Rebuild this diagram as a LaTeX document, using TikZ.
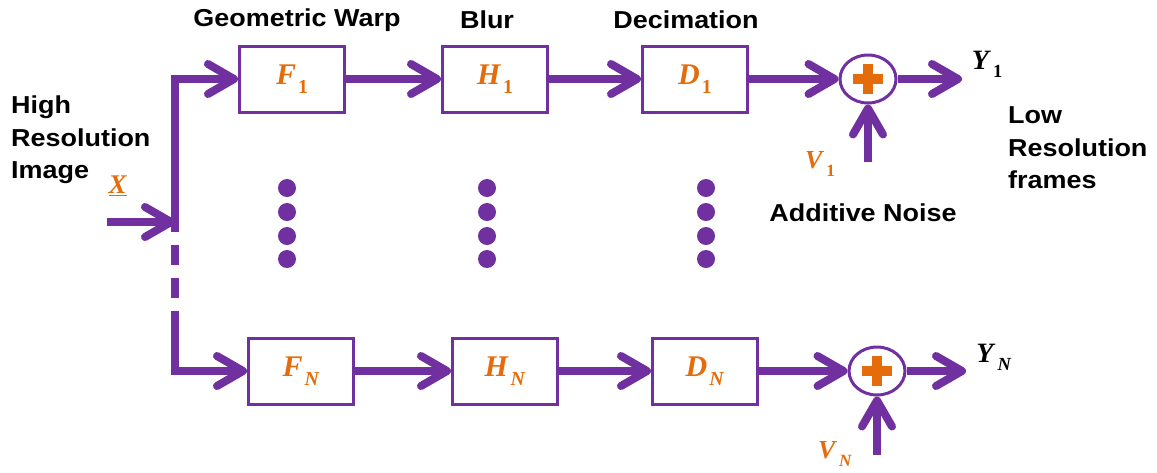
\documentclass[tikz,border=0pt]{standalone}
\usepackage{fontspec}
\setsansfont[FakeStretch=1.1]{Liberation Sans}
\newfontfamily\mlike{Liberation Serif}
\usetikzlibrary{arrows.meta,shapes.geometric}
\definecolor{pur}{HTML}{7030A0}
\definecolor{org}{HTML}{E46C0A}
\newcommand{\sv}[2]{\textbf{\textit{#1}}\kern2pt\raisebox{-0.28em}{\scalebox{0.66}{\textbf{#2}}}}
\begin{document}
\begin{tikzpicture}[x=1pt,y=-1pt,
  blk/.style={draw=pur, line width=3pt, minimum width=105pt, minimum height=66pt, inner sep=0pt, text=org, font=\mlike\fontsize{30}{32}\selectfont},
  sumnode/.style={ellipse, draw=pur, line width=3pt, minimum width=56pt, minimum height=48pt, inner sep=0pt},
  conn/.style={draw=pur, line width=8pt},
  arr/.style={conn, -{Straight Barb[length=26pt,width=30pt,round]}},
  lbl/.style={font=\sffamily\bfseries\fontsize{24.5}{32.5}\selectfont, text=black, inner sep=0pt},
  mlbl/.style={font=\mlike\fontsize{28}{30}\selectfont, inner sep=0pt},
  dot/.style={fill=pur}]
\useasboundingbox (0,0) rectangle (1157,472);

% top row
\node[blk] (F1) at (292,79) {\sv{F}{1}};
\node[blk] (H1) at (495,79) {\sv{H}{1}};
\node[blk] (D1) at (695,79) {\sv{D}{1}};
\node[sumnode] (S1) at (868,79) {};
\fill[org] ([shift={(-15,-5)}]S1.center) rectangle ([shift={(15,5)}]S1.center);
\fill[org] ([shift={(-5,-15)}]S1.center) rectangle ([shift={(5,15)}]S1.center);

% bottom row
\node[blk] (FN) at (301,371) {\sv{F}{\textit{N}}};
\node[blk] (HN) at (505,371) {\sv{H}{\textit{N}}};
\node[blk] (DN) at (705,371) {\sv{D}{\textit{N}}};
\node[sumnode] (SN) at (877,371) {};
\fill[org] ([shift={(-15,-5)}]SN.center) rectangle ([shift={(15,5)}]SN.center);
\fill[org] ([shift={(-5,-15)}]SN.center) rectangle ([shift={(5,15)}]SN.center);

% coordinates
\coordinate (xin) at (107,222);
\coordinate (j) at (175,222);
\coordinate (tc) at (175,79);
\coordinate (dend) at (175,331);
\coordinate (bc) at (175,371);
\coordinate (y1) at (962,79);
\coordinate (yn) at (966,371);
\coordinate (v1) at (868,162);
\coordinate (vn) at (877,455);

% connectors
\draw[arr] (xin) -- (j);
\draw[conn, line cap=butt] ([yshift=-4pt]j) -- (tc);
\draw[arr] ([xshift=-4pt]tc) -- (F1.west);
\draw[conn, line cap=butt, dash pattern=on 20pt off 13pt] ([yshift=10pt]j) -- (dend);
\draw[conn, line cap=butt] (dend) -- ([yshift=4pt]bc);
\draw[arr] ([xshift=-4pt]bc) -- (FN.west);
\draw[arr] (F1) -- (H1);
\draw[arr] (H1) -- (D1);
\draw[arr] (D1) -- (S1);
\draw[arr] (S1) -- (y1);
\draw[arr] (v1) -- (S1);
\draw[arr] (FN) -- (HN);
\draw[arr] (HN) -- (DN);
\draw[arr] (DN) -- (SN);
\draw[arr] (SN) -- (yn);
\draw[arr] (vn) -- (SN);

% dots
\foreach \x in {287,487,706} {
  \foreach \y in {188,212,236,259} {
    \fill[dot] (\x,\y) circle (9);
  }
}

% labels
\node[lbl] (lgw) at (297,20) {Geometric Warp};
\node[lbl] (lbl) at (487,20) {Blur};
\node[lbl] (ldc) at (686,20) {Decimation};
\node[lbl, align=left, anchor=west] (lhr) at (11,140) {High\\Resolution\\Image};
\node[lbl, align=left, anchor=west] (llr) at (1008,148) {Low\\Resolution\\frames};
\node[lbl] (lan) at (863,213) {Additive Noise};
\node[mlbl, text=org, font=\mlike\fontsize{27}{28}\selectfont] (lx) at (118,186) {\underline{\textbf{\textit{X}}}};
\node[mlbl, text=black] (ly1) at (987,64) {\sv{Y}{1}};
\node[mlbl, text=black] (lyn) at (994,357) {\sv{Y}{\textit{N}}};
\node[mlbl, text=org, font=\mlike\fontsize{26}{28}\selectfont] (lv1) at (820,164) {\sv{V}{1}};
\node[mlbl, text=org, font=\mlike\fontsize{26}{28}\selectfont] (lvn) at (835,454) {\sv{V}{\textit{N}}};
\end{tikzpicture}
\end{document}
